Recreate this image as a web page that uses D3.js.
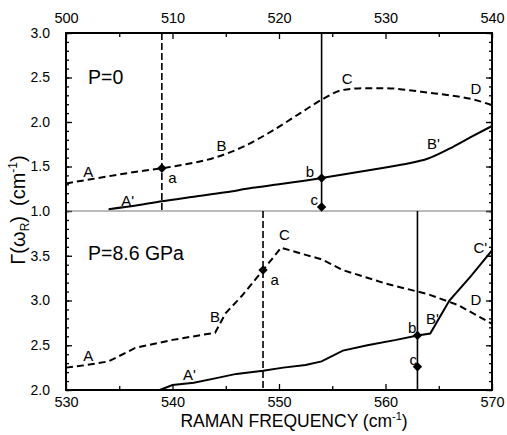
<!DOCTYPE html>
<html><head><meta charset="utf-8">
<script src="https://cdn.jsdelivr.net/npm/d3@7"></script>
<style>body{margin:0;background:#fff}svg{display:block}text{font-family:"Liberation Sans",Arial,Helvetica,sans-serif;fill:#000}</style>
</head><body>
<svg id="c" width="507" height="435"></svg>
<script>
// ---- data ----
const topDashX = [500, 503, 506, 509, 511, 514, 516.6, 519.5, 522, 524, 526, 528, 530, 532, 534, 536, 538, 540];
const topDashY = [1.31, 1.37, 1.43, 1.48, 1.52, 1.60, 1.72, 1.91, 2.10, 2.25, 2.36, 2.38, 2.38, 2.36, 2.33, 2.30, 2.26, 2.19];
const topSolidX = [504, 507, 509, 512, 515, 517.5, 520, 524, 527, 530, 532, 534, 536, 538, 540];
const topSolidY = [1.02, 1.07, 1.11, 1.16, 1.21, 1.26, 1.30, 1.37, 1.43, 1.49, 1.53, 1.59, 1.70, 1.83, 1.955];
const botDashX = [530, 532, 534, 536.5, 540, 544, 545, 546.5, 548.5, 550.2, 552.5, 554, 556, 560, 563, 564, 566.8, 570];
const botDashY = [2.25, 2.28, 2.32, 2.47, 2.56, 2.64, 2.86, 3.05, 3.34, 3.59, 3.51, 3.46, 3.34, 3.19, 3.10, 3.07, 2.95, 2.74];
const botSolidX = [538.8, 540, 542, 544, 546, 548.5, 550.4, 552.5, 554, 556, 558.3, 561, 563, 564.2, 566, 568, 570];
const botSolidY = [2.0, 2.055, 2.08, 2.13, 2.18, 2.215, 2.25, 2.28, 2.32, 2.44, 2.50, 2.56, 2.61, 2.63, 3.0, 3.27, 3.56];
const topPoints = [{x:509,y:1.48},{x:524,y:1.37},{x:524,y:1.045}];
const botPoints = [{x:548.5,y:3.34},{x:563,y:2.61},{x:563,y:2.26}];
const topVDash = 509, topVSolid = 524, topVSolidEnd = 1.045;
const botVDash = 548.5, botVSolid = 563;
const topLabels = [["A",502.1,1.44],["A'",505.8,1.12],["a",510.0,1.38],["B",514.6,1.74],["b",522.9,1.44],["c",523.3,1.13],["C",526.4,2.49],["D",538.5,2.38],["B'",534.5,1.76]];
const botLabels = [["A",532.1,2.39],["A'",541.6,2.17],["B",544.0,2.82],["C",550.5,3.74],["a",549.6,3.23],["b",562.5,2.70],["B'",564.4,2.80],["c",562.6,2.34],["C'",568.9,3.59],["D",568.5,3.01]];
const topXTicks = [500, 510, 520, 530, 540];
const botXTicks = [530, 540, 550, 560, 570];
const topYTicks = [1.0, 1.5, 2.0, 2.5, 3.0];
const botYTicks = [2.0, 2.5, 3.0, 3.5];

// ---- layout ----
const L = 66, R = 492, T = 33, M = 211, B = 390;
const svg = d3.select("#c");
const xTop = d3.scaleLinear().domain([500, 540]).range([L, R]);
const xBot = d3.scaleLinear().domain([530, 570]).range([L, R]);
const yTop = d3.scaleLinear().domain([1, 3]).range([M, T]);
const yBot = d3.scaleLinear().domain([2, 4]).range([B, M]);

function range(a, b, s) { const r = []; for (let v = a; v <= b + 1e-9; v += s) r.push(+v.toFixed(3)); return r; }

function styleAxis(fs) { return g => { g.select(".domain").remove(); g.selectAll("line").attr("stroke", "#000").attr("stroke-width", 1.3); g.selectAll("text").style("font-size", fs + "px").attr("fill", "#000"); }; }

// minor y ticks
[[yTop, range(1, 3, 0.1)], [yBot, range(2, 4, 0.1)]].forEach(([y, vals]) => {
  svg.append("g").attr("transform", `translate(${L},0)`).call(d3.axisLeft(y).tickValues(vals).tickSize(-3).tickFormat("")).call(styleAxis(13));
  svg.append("g").attr("transform", `translate(${R},0)`).call(d3.axisRight(y).tickValues(vals).tickSize(-3).tickFormat("")).call(styleAxis(13));
});
// major y ticks
svg.append("g").attr("transform", `translate(${L},0)`).call(d3.axisLeft(yTop).tickValues(topYTicks).tickSizeInner(-6).tickSizeOuter(0).tickPadding(16).tickFormat(d3.format(".1f"))).call(styleAxis(14));
svg.append("g").attr("transform", `translate(${L},0)`).call(d3.axisLeft(yBot).tickValues(botYTicks).tickSizeInner(-6).tickSizeOuter(0).tickPadding(16).tickFormat(d3.format(".1f"))).call(styleAxis(14));
svg.append("g").attr("transform", `translate(${R},0)`).call(d3.axisRight(yTop).tickValues(range(1,3,0.5)).tickSize(-6).tickFormat("")).call(styleAxis(13));
svg.append("g").attr("transform", `translate(${R},0)`).call(d3.axisRight(yBot).tickValues(range(2,4,0.5)).tickSize(-6).tickFormat("")).call(styleAxis(13));
// x ticks
svg.append("g").attr("transform", `translate(0,${T})`).call(d3.axisTop(xTop).tickValues(range(505,535,10)).tickSize(-4).tickFormat("")).call(styleAxis(13));
svg.append("g").attr("transform", `translate(0,${T})`).call(d3.axisTop(xTop).tickValues(topXTicks).tickSizeInner(-6).tickSizeOuter(0).tickPadding(10).tickFormat(d3.format("d"))).call(styleAxis(14.5));
svg.append("g").attr("transform", `translate(0,${B})`).call(d3.axisBottom(xBot).tickValues(range(535,565,10)).tickSize(-4).tickFormat("")).call(styleAxis(13));
svg.append("g").attr("transform", `translate(0,${B})`).call(d3.axisBottom(xBot).tickValues(botXTicks).tickSizeInner(-6).tickSizeOuter(0).tickPadding(7).tickFormat(d3.format("d"))).call(styleAxis(14.5));

// divider
svg.append("line").attr("x1", L).attr("x2", R).attr("y1", M).attr("y2", M).attr("stroke", "#777").attr("stroke-width", 1);

// vertical lines
svg.append("line").attr("x1", xTop(topVDash)).attr("x2", xTop(topVDash)).attr("y1", T).attr("y2", M).attr("stroke", "#000").attr("stroke-width", 1.6).attr("stroke-dasharray", "7,3");
svg.append("line").attr("x1", xTop(topVSolid)).attr("x2", xTop(topVSolid)).attr("y1", T).attr("y2", yTop(topVSolidEnd)).attr("stroke", "#000").attr("stroke-width", 1.6);
svg.append("line").attr("x1", xBot(botVDash)).attr("x2", xBot(botVDash)).attr("y1", M).attr("y2", B).attr("stroke", "#000").attr("stroke-width", 1.6).attr("stroke-dasharray", "7,3");
svg.append("line").attr("x1", xBot(botVSolid)).attr("x2", xBot(botVSolid)).attr("y1", M).attr("y2", B).attr("stroke", "#000").attr("stroke-width", 1.6);

// curves
function drawLine(xs, ys, x, y, dashed, curve) {
  const pts = xs.map((v, i) => [v, ys[i]]);
  const line = d3.line().x(d => x(d[0])).y(d => y(d[1])).curve(curve);
  svg.append("path").attr("d", line(pts)).attr("fill", "none").attr("stroke", "#000").attr("stroke-width", 2)
    .attr("stroke-dasharray", dashed ? "7,4" : null);
}
drawLine(topDashX, topDashY, xTop, yTop, true, d3.curveMonotoneX);
drawLine(topSolidX, topSolidY, xTop, yTop, false, d3.curveMonotoneX);
drawLine(botDashX, botDashY, xBot, yBot, true, d3.curveLinear);
drawLine(botSolidX, botSolidY, xBot, yBot, false, d3.curveLinear);

// diamonds
const diamond = d3.symbol().type(d3.symbolSquare).size(44);
svg.selectAll(".dt").data(topPoints).join("path").attr("d", diamond).attr("transform", d => `translate(${xTop(d.x)},${yTop(d.y)}) rotate(45)`).attr("fill", "#000");
svg.selectAll(".db").data(botPoints).join("path").attr("d", diamond).attr("transform", d => `translate(${xBot(d.x)},${yBot(d.y)}) rotate(45)`).attr("fill", "#000");

// letter labels
function labels(arr, x, y) {
  arr.forEach(([t, a, b]) => svg.append("text").attr("x", x(a)).attr("y", y(b)).attr("text-anchor", "middle").attr("dominant-baseline", "central").style("font-size", "15px").text(t));
}
labels(topLabels, xTop, yTop);
labels(botLabels, xBot, yBot);

// panel titles
svg.append("text").attr("x", 88).attr("y", 84).style("font-size", "19.5px").text("P=0");
svg.append("text").attr("x", 88).attr("y", 260).style("font-size", "19.5px").text("P=8.6 GPa");

// frame
svg.append("rect").attr("x", L).attr("y", T).attr("width", R - L).attr("height", B - T).attr("fill", "none").attr("stroke", "#000").attr("stroke-width", 2);

// axis titles
const xt = svg.append("text").attr("x", 294).attr("y", 427).attr("text-anchor", "middle").style("font-size", "17.5px");
xt.append("tspan").text("RAMAN FREQUENCY (cm");
xt.append("tspan").attr("dy", -7).style("font-size", "11px").text("-1");
xt.append("tspan").attr("dy", 7).text(")");

const yt = svg.append("text").attr("transform", "translate(25,210) rotate(-90)").attr("text-anchor", "middle").style("font-size", "20px");
yt.append("tspan").text("Γ(ω");
yt.append("tspan").attr("dy", 4).style("font-size", "12px").text("R");
yt.append("tspan").attr("dy", -4).text(")");
yt.append("tspan").attr("dx", 10).text("(cm");
yt.append("tspan").attr("dy", -8).style("font-size", "12px").text("-1");
yt.append("tspan").attr("dy", 8).text(")");
</script>
</body></html>
